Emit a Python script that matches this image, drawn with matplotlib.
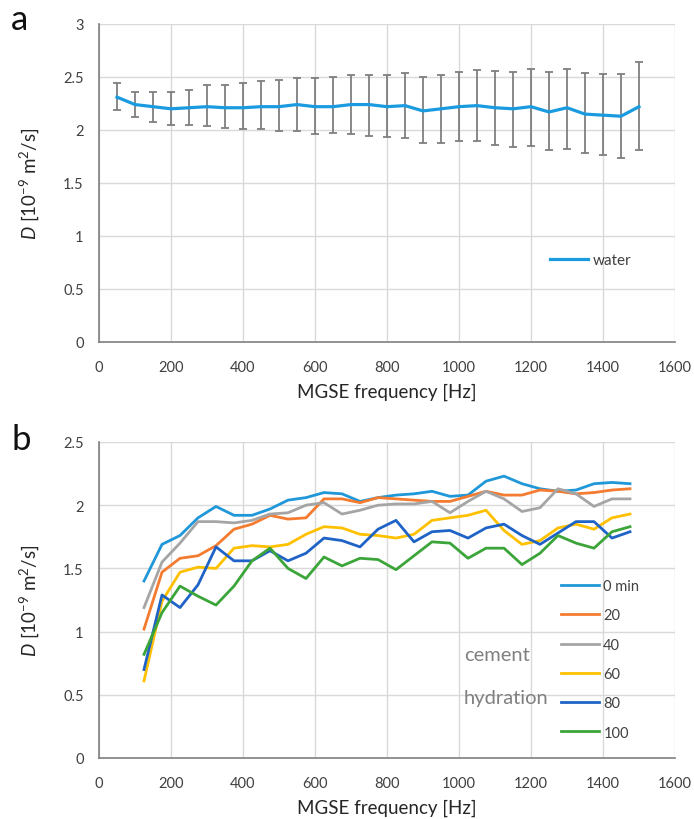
import matplotlib
matplotlib.use('Agg')
import matplotlib.pyplot as plt
import numpy as np

plt.rcParams['font.family'] = ['Lato', 'DejaVu Sans']
plt.rcParams['mathtext.fontset'] = 'custom'
plt.rcParams['mathtext.rm'] = 'Lato'
plt.rcParams['mathtext.it'] = 'Lato:italic'

# ---------------- data: panel a ----------------
freq_a = [50, 100, 150, 200, 250, 300, 350, 400, 450, 500, 550, 600, 650, 700, 750,
          800, 850, 900, 950, 1000, 1050, 1100, 1150, 1200, 1250, 1300, 1350, 1400, 1450, 1500]
water_D = [2.31, 2.24, 2.22, 2.20, 2.21, 2.22, 2.21, 2.21, 2.22, 2.22, 2.24, 2.22, 2.22, 2.24, 2.24,
           2.22, 2.23, 2.18, 2.20, 2.22, 2.23, 2.21, 2.20, 2.22, 2.17, 2.21, 2.15, 2.14, 2.13, 2.22]
water_upper = [2.44, 2.36, 2.36, 2.36, 2.38, 2.42, 2.42, 2.44, 2.46, 2.47, 2.49, 2.49, 2.50, 2.52, 2.52,
               2.52, 2.54, 2.50, 2.52, 2.55, 2.57, 2.56, 2.55, 2.58, 2.55, 2.58, 2.54, 2.53, 2.53, 2.64]
water_lower = [2.19, 2.12, 2.08, 2.05, 2.05, 2.04, 2.02, 2.01, 2.01, 1.99, 1.99, 1.96, 1.97, 1.96, 1.94,
               1.93, 1.92, 1.88, 1.88, 1.90, 1.90, 1.86, 1.84, 1.85, 1.81, 1.82, 1.78, 1.76, 1.74, 1.81]

# ---------------- data: panel b ----------------
freq_b = [125, 175, 225, 275, 325, 375, 425, 475, 525, 575, 625, 675, 725, 775,
          825, 875, 925, 975, 1025, 1075, 1125, 1175, 1225, 1275, 1325, 1375, 1425, 1475]
labels_b = ['0 min', '20', '40', '60', '80', '100']
D_0 = [1.40, 1.69, 1.76, 1.90, 1.99, 1.92, 1.92, 1.97, 2.04, 2.06, 2.10, 2.09, 2.03, 2.06,
       2.08, 2.09, 2.11, 2.07, 2.08, 2.19, 2.23, 2.17, 2.13, 2.11, 2.12, 2.17, 2.18, 2.17]
D_20 = [1.02, 1.47, 1.58, 1.60, 1.68, 1.81, 1.85, 1.92, 1.89, 1.90, 2.05, 2.05, 2.02, 2.06,
        2.05, 2.04, 2.03, 2.03, 2.07, 2.11, 2.08, 2.08, 2.12, 2.11, 2.09, 2.10, 2.12, 2.13]
D_40 = [1.19, 1.55, 1.70, 1.87, 1.87, 1.86, 1.88, 1.93, 1.94, 2.00, 2.02, 1.93, 1.96, 2.00,
        2.01, 2.01, 2.03, 1.94, 2.03, 2.11, 2.05, 1.95, 1.98, 2.13, 2.09, 1.99, 2.05, 2.05]
D_60 = [0.61, 1.24, 1.47, 1.51, 1.50, 1.66, 1.68, 1.67, 1.69, 1.77, 1.83, 1.82, 1.77, 1.76,
        1.74, 1.77, 1.88, 1.90, 1.92, 1.96, 1.80, 1.69, 1.72, 1.82, 1.85, 1.81, 1.90, 1.93]
D_80 = [0.70, 1.29, 1.19, 1.37, 1.67, 1.56, 1.56, 1.64, 1.56, 1.62, 1.74, 1.72, 1.67, 1.81,
        1.88, 1.71, 1.79, 1.80, 1.74, 1.82, 1.85, 1.76, 1.69, 1.78, 1.87, 1.87, 1.74, 1.79]
D_100 = [0.82, 1.15, 1.36, 1.28, 1.21, 1.36, 1.56, 1.66, 1.50, 1.42, 1.59, 1.52, 1.58, 1.57,
         1.49, 1.60, 1.71, 1.70, 1.58, 1.66, 1.66, 1.53, 1.62, 1.76, 1.70, 1.66, 1.79, 1.83]
series_b = [D_0, D_20, D_40, D_60, D_80, D_100]
colors_b = ['#1f97d8', '#f47b30', '#a5a5a5', '#ffc000', '#1f63c6', '#3ca53a']

xticks = [0, 200, 400, 600, 800, 1000, 1200, 1400, 1600]
yticks_a = [0, 0.5, 1, 1.5, 2, 2.5, 3]
yticks_b = [0, 0.5, 1, 1.5, 2, 2.5]

W, H = 694, 820
fig = plt.figure(figsize=(W / 100, H / 100), dpi=100)

def px_axes(left, top, right, bottom):
    return fig.add_axes([left / W, 1 - bottom / H, (right - left) / W, (bottom - top) / H])

ax_a = px_axes(99, 25, 675, 343)
ax_b = px_axes(99, 443, 675, 759)

tick_color = '#404040'
ylabel = r'$\mathit{D}$ [10$^{-9}$ m$^{2}$/s]'

def style(ax, yticks):
    ax.set_xlim(0, 1600)
    ax.set_ylim(yticks[0], yticks[-1])
    ax.set_xticks(xticks)
    ax.set_yticks(yticks)
    ax.set_yticklabels([f'{t:g}' for t in yticks])
    ax.grid(True, color='#d9d9d9', linewidth=1.0)
    ax.set_axisbelow(True)
    for s in ['top', 'right']:
        ax.spines[s].set_visible(False)
    for s in ['left', 'bottom']:
        ax.spines[s].set_color('#7f7f7f')
        ax.spines[s].set_linewidth(1.2)
    ax.tick_params(length=0, labelsize=10.5, labelcolor=tick_color)
    ax.tick_params(axis='x', pad=13)
    ax.tick_params(axis='y', pad=11)
    ax.set_xlabel('MGSE frequency [Hz]', fontsize=13.5, color='#262626', labelpad=6)
    ax.set_ylabel(ylabel, fontsize=13.5, color='#262626', labelpad=16)

style(ax_a, yticks_a)
style(ax_b, yticks_b)

# panel a
D = np.array(water_D)
yerr = [D - np.array(water_lower), np.array(water_upper) - D]
ax_a.errorbar(freq_a, water_D, yerr=yerr, ecolor='#7f7f7f', elinewidth=1.3,
              capsize=3, capthick=1.3, fmt='none', zorder=2)
ax_a.plot(freq_a, water_D, color='#1a9be0', linewidth=2.3, label='water', zorder=3)
ax_a.legend(loc='center left', bbox_to_anchor=(550 / W, 1 - 261 / H),
            bbox_transform=fig.transFigure, frameon=False, fontsize=11,
            handlelength=2.5, handletextpad=0.3, borderpad=0, borderaxespad=0,
            labelcolor='#404040')

# panel b
for vals, lab, col in zip(series_b, labels_b, colors_b):
    ax_b.plot(freq_b, vals, color=col, linewidth=2.0, label=lab)
ax_b.legend(loc='upper left', bbox_to_anchor=(561 / W, 1 - 580 / H),
            bbox_transform=fig.transFigure, frameon=False, fontsize=10.5,
            handlelength=2.6, handletextpad=0.3, borderpad=0, borderaxespad=0,
            labelspacing=1.05, labelcolor='#404040')

ax_b.text(1014, 0.82, 'cement', fontsize=14.5, color='#808080', ha='left', va='center')
ax_b.text(1014, 0.48, 'hydration', fontsize=14.5, color='#808080', ha='left', va='center')

fig.text(20 / W, 1 - 20 / H, 'a', fontsize=25, color='#111111', ha='center', va='center')
fig.text(21 / W, 1 - 440 / H, 'b', fontsize=25, color='#111111', ha='center', va='center')

fig.savefig('out.png', dpi=100)
